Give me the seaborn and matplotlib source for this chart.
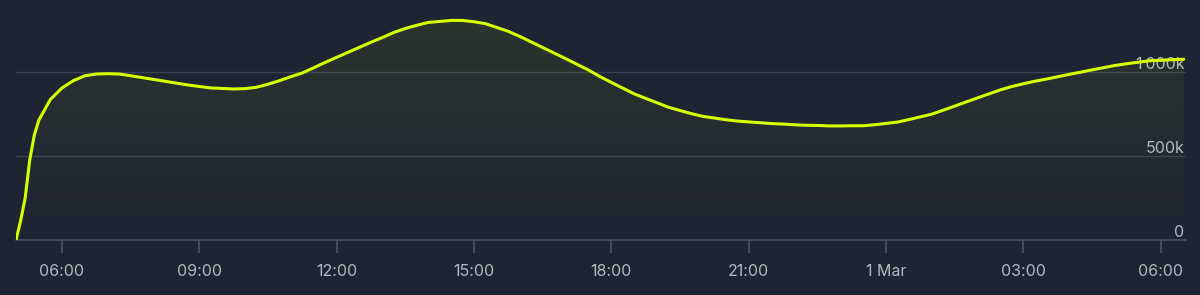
import numpy as np
import pandas as pd
import matplotlib
matplotlib.use("Agg")
import matplotlib.pyplot as plt
import matplotlib.dates as mdates
import matplotlib.transforms as mtrans
from matplotlib.ticker import FuncFormatter, FixedLocator
import seaborn as sns

# ---- data ----
day1_times = ["05:00", "05:06", "05:12", "05:18", "05:24", "05:30", "05:45",
              "06:00", "06:15", "06:30", "06:45", "07:00", "07:15", "07:30", "07:45",
              "08:00", "08:15", "08:30", "08:45", "09:00", "09:15", "09:30", "09:45",
              "10:00", "10:15", "10:30", "10:45", "11:00", "11:15", "11:30", "11:45",
              "12:00", "12:15", "12:30", "12:45", "13:00", "13:15", "13:30", "13:45",
              "14:00", "14:15", "14:30", "14:45", "15:00", "15:15", "15:30", "15:45",
              "16:00", "16:15", "16:30", "16:45", "17:00", "17:15", "17:30", "17:45",
              "18:00", "18:15", "18:30", "18:45", "19:00", "19:15", "19:30", "19:45",
              "20:00", "20:15", "20:30", "20:45", "21:00", "21:15", "21:30", "21:45",
              "22:00", "22:15", "22:30", "22:45", "23:00", "23:15", "23:30", "23:45"]
day1_values_k = [0, 113, 250, 476, 625, 714, 836,
                 904, 948, 977, 988, 990, 988, 978, 967,
                 956, 945, 934, 923, 914, 905, 902, 899,
                 901, 909, 927, 948, 972, 994, 1025, 1057,
                 1087, 1117, 1147, 1177, 1205, 1235, 1259, 1278,
                 1295, 1301, 1307, 1307, 1299, 1288, 1265, 1242,
                 1212, 1179, 1146, 1113, 1080, 1046, 1012, 973,
                 938, 904, 870, 843, 817, 790, 771, 752,
                 736, 726, 716, 708, 703, 698, 693, 690,
                 686, 683, 682, 679, 679, 680, 680, 686]
day2_times = ["00:00", "00:15", "00:30", "00:45", "01:00", "01:15", "01:30", "01:45",
              "02:00", "02:15", "02:30", "02:45", "03:00", "03:15", "03:30", "03:45",
              "04:00", "04:15", "04:30", "04:45", "05:00", "05:15", "05:30", "05:45",
              "06:00", "06:15", "06:30"]
day2_values_k = [694, 702, 717, 733, 749, 773, 797, 822,
                 846, 870, 894, 914, 930, 945, 958, 972,
                 986, 999, 1013, 1026, 1039, 1049, 1058, 1067,
                 1070, 1073, 1076]
x_ticks = ["2023-02-28 06:00", "2023-02-28 09:00", "2023-02-28 12:00", "2023-02-28 15:00",
           "2023-02-28 18:00", "2023-02-28 21:00", "2023-03-01 00:00", "2023-03-01 03:00",
           "2023-03-01 06:00"]
y_ticks = [0, 500000, 1000000]
y_tick_labels = ["0", "500k", "1\u2009000k"]

times = ["2023-02-28 " + t for t in day1_times] + ["2023-03-01 " + t for t in day2_times]
values = np.array(day1_values_k + day2_values_k) * 1000
df = pd.DataFrame({"time": pd.to_datetime(times), "value": values})

BG = "#1f2433"
GRID = "#3a4152"
AXIS = "#4a5264"
TXT = "#b4b8c2"
LINE = "#d6ff00"

sns.set_theme(style="dark")
plt.rcParams["font.family"] = ["Inter", "DejaVu Sans"]

fig = plt.figure(figsize=(12, 2.95), dpi=100, facecolor=BG)
ax = fig.add_axes([16 / 1200, 55 / 295, 1170 / 1200, 240 / 295])
ax.set_facecolor(BG)

x0 = mdates.date2num(pd.Timestamp("2023-02-28 05:00"))
x1 = mdates.date2num(pd.Timestamp("2023-03-01 06:33"))
ymax = 240 / 168 * 1000000

# gradient fill under the line
poly = ax.fill_between(df["time"], df["value"], 0, color="none", lw=0)
grad = np.zeros((256, 1, 4))
grad[..., :3] = matplotlib.colors.to_rgb("#b8e000")
grad[:, 0, 3] = np.linspace(0.09, 0.0, 256)
img = ax.imshow(grad, aspect="auto", extent=[x0, x1, 0, 1310000],
                origin="upper", zorder=1)
img.set_clip_path(poly.get_paths()[0], transform=ax.transData)

sns.lineplot(data=df, x="time", y="value", ax=ax, color=LINE, lw=2.2, zorder=3,
             solid_joinstyle="round", solid_capstyle="round")

ax.set_xlim(x0, x1)
ax.set_ylim(0, ymax)

for y in y_ticks[1:]:
    ax.axhline(y, color=GRID, lw=1, zorder=0)

for s in ["top", "right", "left"]:
    ax.spines[s].set_visible(False)
ax.spines["bottom"].set_color(AXIS)
ax.spines["bottom"].set_linewidth(1.2)

ax.xaxis.set_major_locator(FixedLocator(mdates.date2num(pd.to_datetime(x_ticks))))

def fmt(v, pos):
    d = mdates.num2date(v)
    if d.hour == 0 and d.minute == 0:
        return f"{d.day} {d.strftime('%b')}"
    return d.strftime("%H:%M")

ax.xaxis.set_major_formatter(FuncFormatter(fmt))
ax.tick_params(axis="x", colors=AXIS, length=9, width=1.2, direction="out",
               labelcolor=TXT, labelsize=11.5, pad=8, bottom=True)

ax.yaxis.set_major_locator(FixedLocator(y_ticks))
ax.set_yticklabels(y_tick_labels)
ax.yaxis.tick_right()
ax.tick_params(axis="y", length=0, labelcolor=TXT, labelsize=11.5, pad=-1,
               labelright=True, labelleft=False)
for lab in ax.get_yticklabels():
    lab.set_horizontalalignment("right")
    lab.set_verticalalignment("baseline")
    lab.set_transform(lab.get_transform() +
                      mtrans.ScaledTranslation(0, 2.5 / 72, fig.dpi_scale_trans))

ax.set_xlabel("")
ax.set_ylabel("")
ax.grid(False)

fig.savefig("out.png", dpi=100, facecolor=BG)
